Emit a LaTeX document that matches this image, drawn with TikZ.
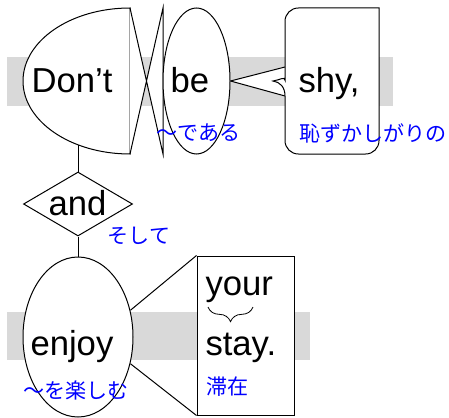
\documentclass[tikz,border=0pt]{standalone}
\usepackage{fontspec}
\setmainfont{Liberation Sans}
\newfontfamily\jpfont{Noto Sans CJK JP}
\usetikzlibrary{shapes.geometric, decorations.pathreplacing}
\definecolor{glossblue}{RGB}{0,0,255}
\definecolor{bandgray}{RGB}{217,217,217}
\begin{document}
\begin{tikzpicture}[x=0.75pt, y=-0.75pt, line width=0.75pt,
	word/.style = {anchor=base west, inner sep=0pt, font=\fontsize{26}{31}\selectfont},
	gloss/.style = {anchor=west, inner sep=0pt, text=glossblue, font=\jpfont\fontsize{15.8}{18}\selectfont},
	frame/.style = {draw, fill=white, inner sep=0pt}]

		\useasboundingbox (0,0) rectangle (449,417);

		% grey bands
		\fill[bandgray] (7,57) rectangle (393,106);
		\fill[bandgray] (7,312) rectangle (310,360);

		% Don't + bow tie
		\coordinate (dtop) at (130,8);
		\coordinate (dbot) at (130,154);
		\coordinate (btop) at (163,8);
		\coordinate (bbot) at (163,154);
		\filldraw[fill=white] (dtop) arc[start angle=90, end angle=270, x radius=80.25pt, y radius=54.75pt] -- cycle;
		\fill[white] (dtop) -- (bbot) -- (btop) -- (dbot) -- cycle;
		\draw (dtop) -- (bbot) -- (btop) -- (dbot);

		\node[frame, ellipse, minimum width=50.25pt, minimum height=109.5pt] (be) at (196.5,81) {};

		% shy, box with brace edge
		\coordinate (stip1) at (285,67);
		\coordinate (stip2) at (285,96);
		\fill[white] (be.east) -- (stip1) -- (stip2) -- cycle;
		\draw (be.east) -- (stip1);
		\draw (be.east) -- (stip2);
		\filldraw[fill=white, rounded corners=10pt] (379,8) -- (285,8) -- (stip1) [sharp corners]
			.. controls (285,76) and (280,80) .. (273,81)
			.. controls (280,82) and (285,87) .. (stip2) [rounded corners=10pt]
			-- (285,154) -- (379,154) [sharp corners] -- cycle;

		\node[word] (dont) at (31,93) {Don’t};
		\node[word] (bew) at (170,93) {be};
		\node[word] (shy) at (298,93) {shy,};
		\node[gloss] (bejp) at (156,133) {〜である};
		\node[gloss] (shyjp) at (299,133) {恥ずかしがりの};

		% and
		\coordinate (dfoot) at (78,145);
		\node[frame, diamond, minimum width=81.75pt, minimum height=48pt] (and) at (78,204) {};
		\draw (dfoot) -- (and.north);
		\node[word] (andw) at (48,215) {and};
		\node[gloss] (andjp) at (107,236) {そして};

		% enjoy your stay.
		\node[frame, ellipse, minimum width=82.5pt, minimum height=120pt] (enjoy) at (78,337) {};
		\node[frame, minimum width=72.75pt, minimum height=119.25pt] (stay) at (245.5,335.5) {};
		\draw (and.south) -- (enjoy.north);
		\draw (enjoy.27) -- (stay.north west);
		\draw (enjoy.-27) -- (stay.south west);

		\node[word] (enjoyw) at (30,355) {enjoy};
		\node[word] (your) at (205,295) {your};
		\draw[decorate, decoration={brace, mirror, amplitude=11pt}, line width=0.6pt] (208,307) -- (253,307);
		\node[word] (stayw) at (205,355) {stay.};
		\node[gloss] (enjoyjp) at (23,390) {〜を楽しむ};
		\node[gloss] (stayjp) at (206,387) {滞在};
	\end{tikzpicture}
\end{document}
